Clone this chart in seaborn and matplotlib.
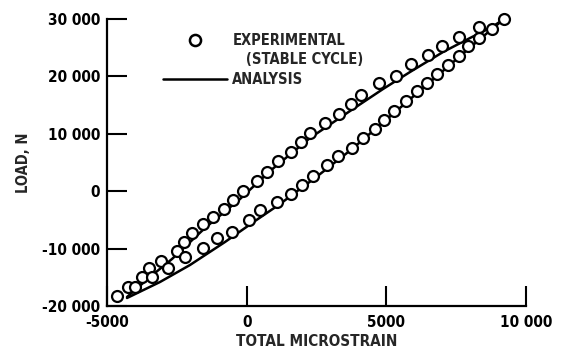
import matplotlib
matplotlib.use("Agg")
import matplotlib.pyplot as plt
from matplotlib.lines import Line2D
import pandas as pd
import seaborn as sns

# ---- experimental points (stable cycle) ----
unload_strain = [9200, 8300, 7600, 7000, 6500, 5900, 5350, 4750, 4100, 3750, 3300, 2800,
                 2270, 1950, 1600, 1130, 730, 360, -120, -490, -810, -1200, -1550, -1940,
                 -2250, -2500, -3050, -3500, -3760, -4240, -4650]
unload_load = [30000, 28600, 26800, 25300, 23700, 22100, 20100, 18800, 16750, 15250, 13500,
               11900, 10200, 8500, 6900, 5250, 3350, 1800, 0, -1550, -3150, -4500, -5700,
               -7300, -8800, -10500, -12100, -13400, -14900, -16700, -18250]
load_strain = [-4000, -3400, -2800, -2200, -1570, -1050, -520, 80, 460, 1100, 1570, 1980,
               2370, 2880, 3280, 3760, 4150, 4600, 4930, 5280, 5700, 6090, 6450, 6820, 7220,
               7610, 7930, 8330, 8800]
load_load = [-16700, -14950, -13400, -11500, -9950, -8200, -7050, -5000, -3350, -1900, -520,
             1080, 2700, 4500, 6150, 7550, 9200, 10900, 12400, 13950, 15750, 17450, 18900,
             20400, 22000, 23550, 25300, 26650, 28250]

# ---- analysis curves ----
an_upper_strain = [-4284, -3461, -2673, -1492, -239, 835, 2267, 3699, 4881, 5847, 7029, 7995, 8783, 9213]
an_upper_load = [-18432, -14948, -11813, -6412, -1361, 3517, 9266, 13969, 17801, 20763, 24247, 26686, 28602, 29995]
an_lower_strain = [-4284, -3103, -2029, -776, 298, 1193, 1909, 2446, 3771, 5275, 6814, 8353, 9213]
an_lower_load = [-18606, -15819, -12858, -8851, -5193, -2232, 381, 2298, 7349, 13621, 20066, 26511, 29995]

# ---- ticks ----
x_ticks = [-5000, 0, 5000, 10000]
x_tick_labels = ["-5000", "0", "5000", "10 000"]
y_ticks = [-20000, -10000, 0, 10000, 20000, 30000]
y_tick_labels = ["-20 000", "-10 000", "0", "10 000", "20 000", "30 000"]

sns.set_style("ticks")
plt.rcParams["font.family"] = ["DejaVu Sans"]
plt.rcParams["font.stretch"] = "condensed"
plt.rcParams["font.weight"] = "bold"

exp_df = pd.DataFrame({
    "strain": unload_strain + load_strain,
    "load": unload_load + load_load,
})
an_df = pd.DataFrame({
    "strain": an_upper_strain + an_lower_strain,
    "load": an_upper_load + an_lower_load,
    "branch": ["upper"] * len(an_upper_strain) + ["lower"] * len(an_lower_strain),
})

fig = plt.figure(figsize=(5.65, 3.52), dpi=100)
ax = fig.add_axes([107 / 565, 1 - 306 / 352, 419 / 565, 287 / 352])

sns.lineplot(data=an_df, x="strain", y="load", units="branch", estimator=None, sort=False,
             color="black", linewidth=1.8, ax=ax, zorder=2, legend=False)
sns.scatterplot(data=exp_df, x="strain", y="load", marker="o", s=62, facecolor="white",
                edgecolor="black", linewidth=1.6, ax=ax, zorder=3, clip_on=False, legend=False)

ax.set_xlim(-5000, 10000)
ax.set_ylim(-20000, 30000)
ax.set_xticks(x_ticks)
ax.set_xticklabels(x_tick_labels)
ax.set_yticks(y_ticks)
ax.set_yticklabels(y_tick_labels)
ax.tick_params(direction="in", length=14.5, width=1.5, labelsize=11, color="black",
               labelcolor="black")
ax.tick_params(axis="x", pad=6.5)
ax.tick_params(axis="y", pad=5)
for side in ("top", "right"):
    ax.spines[side].set_visible(False)
for side in ("left", "bottom"):
    ax.spines[side].set_linewidth(1.6)
    ax.spines[side].set_color("black")

ax.set_xlabel("TOTAL MICROSTRAIN", fontsize=11, fontweight="bold", labelpad=3)
ax.set_ylabel("LOAD, N", fontsize=10.5, fontweight="bold", labelpad=8)

handles = [
    Line2D([], [], linestyle="none", marker="o", markersize=8, markerfacecolor="white",
           markeredgecolor="black", markeredgewidth=1.8),
    Line2D([], [], linestyle="none"),
    Line2D([], [], color="black", linewidth=1.8),
]
labels = ["EXPERIMENTAL", "   (STABLE CYCLE)", "ANALYSIS"]
leg = ax.legend(handles, labels, loc="upper left", bbox_to_anchor=(163 / 565, 1 - 33 / 352),
                bbox_transform=fig.transFigure, frameon=False, fontsize=10.5,
                handlelength=4.4, handletextpad=0.35, labelspacing=0.3, borderpad=0,
                borderaxespad=0)
for t in leg.get_texts():
    t.set_fontweight("bold")

fig.savefig("out.png", dpi=100)
